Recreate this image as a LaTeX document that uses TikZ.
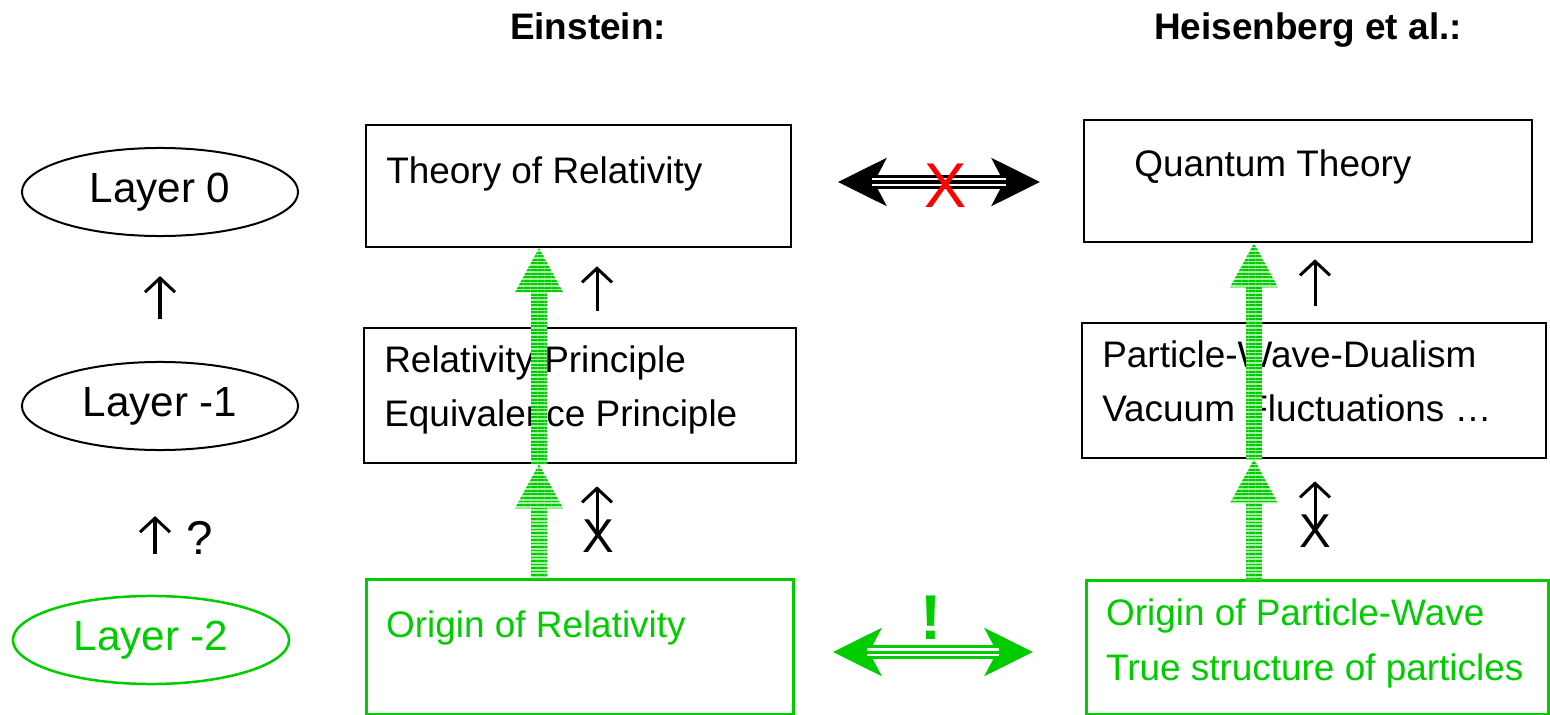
\documentclass[tikz,border=0pt]{standalone}
\usepackage{fontspec}
\setmainfont{Liberation Sans}
\usepackage{tikz}
\usetikzlibrary{positioning, arrows.meta, shapes.geometric, calc, patterns.meta}

\definecolor{grn}{RGB}{0,204,0}
\definecolor{xred}{RGB}{255,0,0}

% hatched block arrow, #1 tail, #2 tip (pointing up)
\newcommand{\hatcharrow}[2]{%
  \path[hatch] ($(#1)+(-8,0)$) -- ($(#2)+(-8,44)$) -- ($(#2)+(-24,44)$) -- (#2)
    -- ($(#2)+(24,44)$) -- ($(#2)+(8,44)$) -- ($(#1)+(8,0)$) -- cycle;}
% three-line double headed arrow
\newcommand{\tripleline}[3]{%
  \draw[line width=0.14cm, #3, {Stealth[length=0.48cm,width=0.47cm,inset=0.12cm]}-{Stealth[length=0.48cm,width=0.47cm,inset=0.12cm]}] (#1) -- (#2);
  \draw[line width=0.075cm, white, shorten <=0.34cm, shorten >=0.34cm] (#1) -- (#2);
  \draw[line width=0.03cm, #3, shorten <=0.34cm, shorten >=0.34cm] (#1) -- (#2);}

\begin{document}
\begin{tikzpicture}[
    x=0.01cm, y=-0.01cm,
    box/.style={rectangle, draw, line width=0.025cm, inner sep=0pt},
    gbox/.style={box, draw=grn, line width=0.03cm},
    txt/.style={inner sep=0pt, anchor=base west, font=\fontsize{10.5}{13}\selectfont},
    gtxt/.style={txt, text=grn},
    layer/.style={ellipse, draw, line width=0.02cm, minimum width=2.76cm, minimum height=0.88cm, inner sep=0pt, font=\fontsize{12}{14}\selectfont},
    title/.style={anchor=base, inner sep=0pt, font=\fontsize{10.5}{13}\selectfont\bfseries},
    uparr/.style={line width=0.03cm, -{Straight Barb[length=0.14cm,width=0.3cm]}},
    sign/.style={anchor=base, inner sep=0pt, font=\fontsize{13.5}{16}\selectfont},
    hatch/.style={preaction={fill=grn!35}, pattern={Lines[angle=0,distance=0.035cm,line width=0.017cm]}, pattern color=grn}
]
\useasboundingbox (0,0) rectangle (1550,715);

% titles
\node[title] (ein) at (588,40) {Einstein:};
\node[title] (hei) at (1308,40) {Heisenberg et al.:};

% layers
\node[layer] (l0) at (160,192) {Layer 0};
\node[layer] (lm1) at (160,406) {Layer -1};
\node[layer, draw=grn, text=grn, line width=0.025cm] (lm2) at (151,640) {Layer -2};

% Einstein column
\node[box, minimum width=4.25cm, minimum height=1.22cm] (thr) at (578.5,186) {};
\node[box, minimum width=4.32cm, minimum height=1.35cm] (rp) at (580,395.5) {};
\node[gbox, minimum width=4.26cm, minimum height=1.34cm] (orel) at (580,647) {};

\node[txt] (thrt) at ($(thr.north west)+(21,60)$) {Theory of Relativity};
\node[txt] (rpt1) at ($(rp.north west)+(21,46)$) {Relativity Principle};
\node[txt] (rpt2) at ($(rpt1.base west)+(0,54)$) {Equivalence Principle};
\node[gtxt] (orelt) at ($(orel.north west)+(20,59)$) {Origin of Relativity};

% Heisenberg column
\node[box, minimum width=4.48cm, minimum height=1.22cm] (qt) at (1308,181) {};
\node[box, minimum width=4.64cm, minimum height=1.35cm] (pw) at (1314,390.5) {};
\node[gbox, minimum width=4.61cm, minimum height=1.33cm] (opw) at (1317.5,647.5) {};

\node[txt] (qtt) at ($(qt.north west)+(51,58)$) {Quantum Theory};
\node[txt] (pwt1) at ($(pw.north west)+(21,46)$) {Particle-Wave-Dualism};
\node[txt] (pwt2) at ($(pwt1.base west)+(0,54)$) {Vacuum Fluctuations \ldots};
\node[gtxt] (opwt1) at ($(opw.north west)+(20,46)$) {Origin of Particle-Wave};
\node[gtxt] (opwt2) at ($(opwt1.base west)+(0,55)$) {True structure of particles};

% small arrows
\coordinate (lx) at (155,0);
\coordinate (ex) at (597,0);
\coordinate (hx) at (1315,0);
\draw[uparr, shorten <=0.42cm, shorten >=0.39cm] (lm1.north) -- (l0.south);
\draw[uparr, shorten <=0.41cm, shorten >=0.65cm] (lx |- lm2.north) -- (lx |- lm1.south);
\node[sign] (qm) at (200,554) {?};
\draw[uparr, shorten <=0.16cm, shorten >=0.18cm] (ex |- rp.north) -- (ex |- thr.south);
\draw[uparr, shorten <=0.45cm, shorten >=0.22cm] (ex |- orel.north) -- (ex |- rp.south);
\node[sign] (ex0) at (598,552) {X};
\draw[uparr, shorten <=0.16cm, shorten >=0.16cm] (hx |- pw.north) -- (hx |- qt.south);
\draw[uparr, shorten <=0.46cm, shorten >=0.22cm] (hx |- opw.north) -- (hx |- pw.south);
\node[sign] (hx0) at (1315,547) {X};

% green hatched arrows
\coordinate (ge) at (539,0);
\coordinate (gh) at (1254,0);
\coordinate (e1) at (ge |- orel.north);
\coordinate (e2) at (ge |- rp.south);
\coordinate (e3) at (ge |- thr.south);
\coordinate (h1) at (gh |- opw.north);
\coordinate (h2) at (gh |- pw.south);
\coordinate (h3) at (gh |- qt.south);
\hatcharrow{e1}{e2}
\hatcharrow{e2}{e3}
\hatcharrow{h1}{h2}
\hatcharrow{h2}{h3}

% double arrows between the columns
\coordinate (xl) at (838,182);
\coordinate (xr) at (1040,182);
\coordinate (gl) at (833,652);
\coordinate (gr) at (1033,652);
\tripleline{xl}{xr}{black}
\tripleline{gl}{gr}{grn}
\node[anchor=base, inner sep=0pt, text=xred, font=\fontsize{18}{20}\selectfont] (no) at (946,208) {X};
\node[anchor=base, inner sep=0pt, text=grn, font=\fontsize{18}{20}\selectfont\bfseries] (yes) at (931,639) {!};
\end{tikzpicture}
\end{document}
